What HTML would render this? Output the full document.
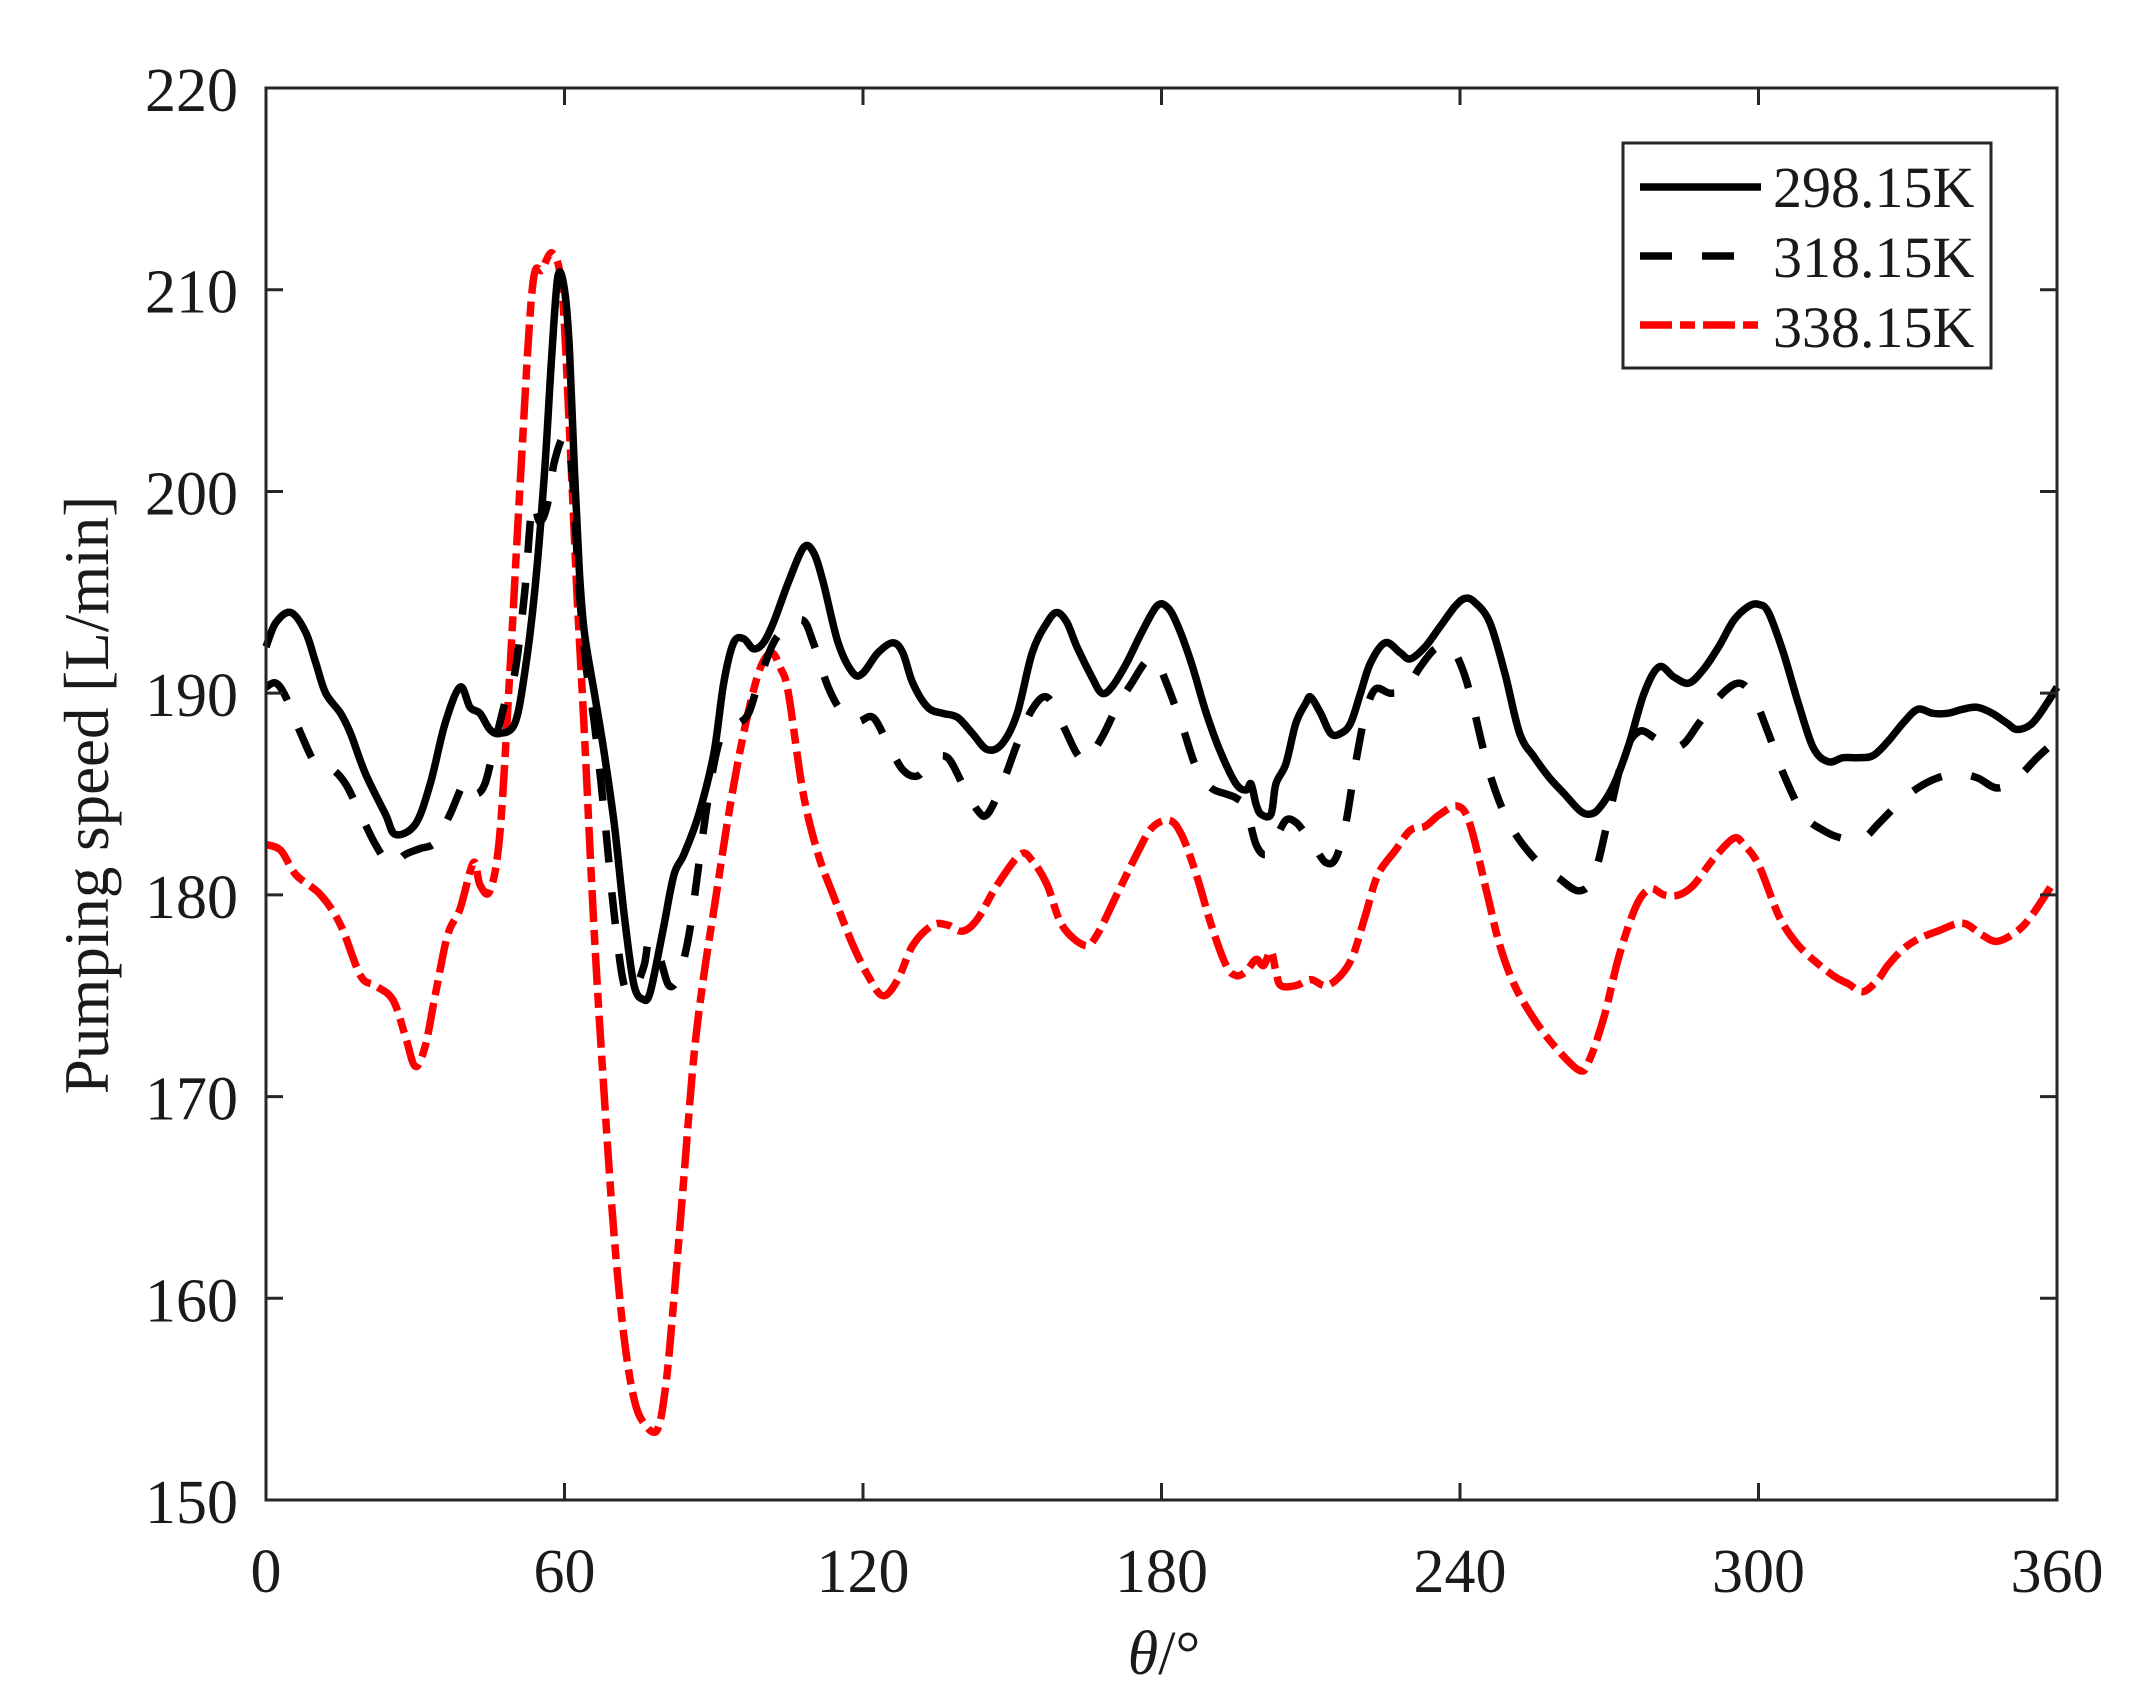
<!DOCTYPE html>
<html><head><meta charset="utf-8"><style>
html,body{margin:0;padding:0;background:#fff;}
svg{display:block;}
text{font-family:"Liberation Serif","DejaVu Serif",serif;fill:#1a1a1a;}
</style></head><body>
<svg id="s" width="2138" height="1696" viewBox="0 0 2138 1696" xmlns="http://www.w3.org/2000/svg" font-family="Liberation Serif, serif">
<rect width="2138" height="1696" fill="#fff"/>
<g id="curves" fill="none" stroke-linejoin="round"></g>
<g id="axes" stroke="#262626" stroke-width="3" fill="none">
<rect x="266" y="88" width="1791" height="1412"/>
</g>
<g id="labels" font-size="62" font-family="Liberation Serif, serif"></g>
<text x="0" y="0" font-size="63" text-anchor="middle" font-family="Liberation Serif, serif" transform="translate(108,795) rotate(-90)">Pumping speed [L/min]</text>
<text x="1164" y="1674" font-size="62" text-anchor="middle" font-family="Liberation Serif, serif"><tspan font-style="italic">θ</tspan>/°</text>
<g>
<rect x="1623" y="143" width="368" height="225" fill="#fff" stroke="#262626" stroke-width="3"/>
<line x1="1640" y1="187" x2="1761" y2="187" stroke="#000" stroke-width="7.5"/>
<line x1="1640" y1="256" x2="1761" y2="256" stroke="#000" stroke-width="7.5" stroke-dasharray="32,30"/>
<line x1="1640" y1="325" x2="1761" y2="325" stroke="#f00" stroke-width="7.5" stroke-dasharray="32,8,15,8"/>
<text x="1773" y="207" font-size="58" fill="#000" font-family="Liberation Serif, serif">298.15K</text>
<text x="1773" y="277" font-size="58" fill="#000" font-family="Liberation Serif, serif">318.15K</text>
<text x="1773" y="347" font-size="58" fill="#000" font-family="Liberation Serif, serif">338.15K</text>
</g>
</svg>
<script>
var X=function(d){return 266+d*1791/360;},Y=function(v){return 1500-(v-150)*20.171;};
var NS="http://www.w3.org/2000/svg";
function el(p,n,a){var e=document.createElementNS(NS,n);for(var k in a)e.setAttribute(k,a[k]);p.appendChild(e);return e;}
var ax=document.getElementById('axes'),lb=document.getElementById('labels');
for(var i=0;i<=6;i++){var x=X(i*60);
 if(i>0&&i<6){el(ax,'line',{x1:x,y1:1500,x2:x,y2:1483});el(ax,'line',{x1:x,y1:88,x2:x,y2:105});}
 var t=el(lb,'text',{x:x,y:1592,'text-anchor':'middle'});t.textContent=String(i*60);}
for(var v=150;v<=220;v+=10){var y=Y(v);
 if(v>150&&v<220){el(ax,'line',{x1:266,y1:y,x2:283,y2:y});el(ax,'line',{x1:2057,y1:y,x2:2040,y2:y});}
 var t=el(lb,'text',{x:238,y:y+23,'text-anchor':'end'});t.textContent=String(v);}
function path(d){var p=d.map(function(a){return [X(a[0]),Y(a[1])];});var s="M"+p[0][0].toFixed(1)+","+p[0][1].toFixed(1);
 for(var i=0;i<p.length-1;i++){var p0=p[i-1]||p[i],p1=p[i],p2=p[i+1],p3=p[i+2]||p2;
  var c1x=p1[0]+(p2[0]-p0[0])/6,c1y=p1[1]+(p2[1]-p0[1])/6,c2x=p2[0]-(p3[0]-p1[0])/6,c2y=p2[1]-(p3[1]-p1[1])/6;
  s+="C"+c1x.toFixed(1)+","+c1y.toFixed(1)+" "+c2x.toFixed(1)+","+c2y.toFixed(1)+" "+p2[0].toFixed(1)+","+p2[1].toFixed(1);}
 return s;}
var solid=[[0,192.3],[2,193.5],[5,194],[8,193],[10,191.5],[12,190],[15,189],[17,188],[20,186],[24,184],[26,183],[30,183.5],[33,185.5],[36,188.5],[39,190.3],[41,189.3],[43,189],[45,188.2],[47,188],[50,188.5],[52,191],[54,195],[56,201],[57.5,207],[58.7,210.7],[60,210],[61,207],[62,201],[63,196],[64,193],[66,190],[68,187],[70,183.5],[72,179],[74,175.5],[76,174.8],[77,175],[78,176],[80,178.5],[82,181],[84,182],[87,184],[90,187],[92,190.5],[94,192.5],[96,192.7],[98,192.2],[100,192.5],[102,193.5],[105,195.5],[108,197.2],[110,197],[112,195.5],[115,192.5],[118,191],[120,191],[123,192],[126,192.5],[128,192],[130,190.5],[133,189.3],[136,189],[139,188.8],[142,188],[145,187.2],[148,187.5],[151,189],[154,192],[157,193.5],[159,194],[161,193.5],[163,192.3],[166,190.8],[168,190],[170,190.3],[173,191.5],[176,193],[179,194.3],[181,194.3],[183,193.5],[186,191.5],[189,189],[192,187],[195,185.5],[197,185.2],[198,185.5],[199,184.5],[200,184],[202,184],[203,185.5],[205,186.5],[207,188.5],[209,189.5],[210,189.8],[212,189],[214,188],[216,188],[218,188.5],[220,190],[222,191.5],[225,192.5],[228,192],[230,191.7],[233,192.3],[236,193.3],[239,194.3],[241,194.7],[243,194.5],[246,193.5],[249,191],[252,188],[255,186.8],[258,185.8],[261,185],[264,184.2],[266,184],[268,184.3],[271,185.5],[274,187.5],[277,190],[280,191.3],[283,190.8],[286,190.5],[289,191.2],[292,192.3],[295,193.6],[298,194.3],[300,194.4],[302,194],[305,192],[308,189.5],[311,187.3],[314,186.6],[317,186.8],[320,186.8],[323,186.9],[326,187.6],[329,188.5],[332,189.2],[335,189],[338,189],[341,189.2],[344,189.3],[347,189],[350,188.5],[352,188.2],[355,188.5],[358,189.5],[360,190.3]];
var dash=[[0,190.3],[2,190.5],[4,189.8],[7,188],[10,186.5],[13,186.3],[16,185.5],[19,184],[22,182.5],[25,181.5],[28,182],[31,182.3],[34,182.6],[37,184],[40,185.6],[42,185],[44,185.5],[46,187.5],[48,189.5],[50,191],[52,195],[53.5,199.3],[55,198.5],[56.5,199.3],[58,201.5],[60,202.7],[61.5,201],[63,195],[64.5,191],[66,188.5],[68,184],[70,179],[72,175.5],[74,175.3],[76,176.5],[77,177.7],[79,177],[81,175.5],[83,176],[85,178],[87,181.5],[89,185],[91,187.5],[93,188.2],[95,188.5],[97,189],[99,190.5],[102,192.5],[105,193.3],[108,193.6],[110,192.5],[113,190.3],[116,189],[119,188.6],[122,188.8],[125,187.5],[128,186.2],[131,185.9],[134,186.7],[137,186.8],[140,185.5],[143,184.2],[145,184],[148,185.5],[151,187.5],[154,189.2],[157,189.8],[160,188.5],[163,187],[165,186.7],[168,187.8],[171,189.3],[174,190.5],[177,191.6],[179,191.6],[181,190.5],[184,188.5],[187,186.3],[190,185.3],[193,185],[195,184.8],[197,184.3],[199,182.5],[201,182],[203,182.8],[205,183.7],[207,183.6],[209,183],[211,182.3],[213,181.6],[215,181.8],[217,183.5],[219,186.5],[221,189],[223,190.2],[226,190],[229,190.2],[232,191.3],[235,192.2],[238,192.3],[240,191.5],[242,190],[246,186],[250,183.5],[255,181.8],[260,180.8],[264,180.2],[267,181],[270,184],[273,187],[276,188.1],[279,187.8],[282,187.3],[285,187.5],[288,188.5],[292,189.8],[296,190.5],[299,189.8],[302,188],[305,186],[309,184],[313,183.2],[317,182.8],[321,182.8],[324,183.5],[328,184.5],[332,185.3],[336,185.8],[340,186],[344,185.8],[348,185.3],[352,185.8],[356,186.8],[360,187.7]];
var red=[[0,182.5],[3,182.2],[6,181],[11,180],[15,178.5],[19,176],[22,175.5],[25.5,174.8],[28,173],[30,171.5],[32,172.5],[34,175],[36.5,178],[39,179.3],[41.7,181.6],[43,180.5],[45,180.2],[47,183],[49,191],[51,200],[53.5,210],[55.5,211],[57.6,211.8],[59.5,210],[61,203],[62.5,195],[64,188],[66,178],[68,170],[70,163],[72,158],[74,155],[76,153.8],[78.7,153.5],[80.5,156],[82,160],[84,166],[86,172],[88,176],[90.5,180],[93,184],[96,188],[99,191],[101.5,192],[103.5,191.2],[105,190],[108,185],[111,182],[114,180],[118,177.5],[121,176],[124,175],[127,175.8],[130,177.5],[134,178.5],[137,178.5],[140,178.2],[143,178.8],[147,180.5],[151.6,182],[154,181.7],[157,180.5],[160,178.5],[164.5,177.5],[167,178],[171,180],[175,182],[178,183.3],[181.5,183.7],[184,183],[187,181],[190,178.5],[193,176.5],[195,176],[197,176.2],[199,176.8],[200.5,176.5],[202,177.2],[203,176.2],[204,175.5],[207,175.5],[210,175.8],[213,175.5],[216,176],[218.5,177],[221,179],[223.5,181],[227,182.2],[230,183.2],[233,183.4],[236,184],[239.5,184.4],[242,183.5],[245.5,180],[248,177.5],[251,175.5],[255,173.8],[259,172.5],[264,171.3],[266,171.8],[269,174],[272,177],[275.5,179.5],[278.3,180.3],[281,180],[284,180],[287,180.5],[291,181.8],[295,182.8],[297,182.5],[300,181.5],[304,179],[307,177.8],[310,177],[315,176],[318,175.6],[321,175.2],[324,175.8],[326,176.5],[329,177.3],[332,177.8],[336,178.2],[341,178.6],[345,178],[348,177.7],[352,178.2],[355,179],[359,180.5]];
var g=document.getElementById('curves');
el(g,'path',{d:path(red),stroke:'#f00','stroke-width':7.5,'stroke-dasharray':'32,8,15,8'});
el(g,'path',{d:path(dash),stroke:'#000','stroke-width':7.5,'stroke-dasharray':'32,30'});
el(g,'path',{d:path(solid),stroke:'#000','stroke-width':7.5});
</script>
</body></html>
